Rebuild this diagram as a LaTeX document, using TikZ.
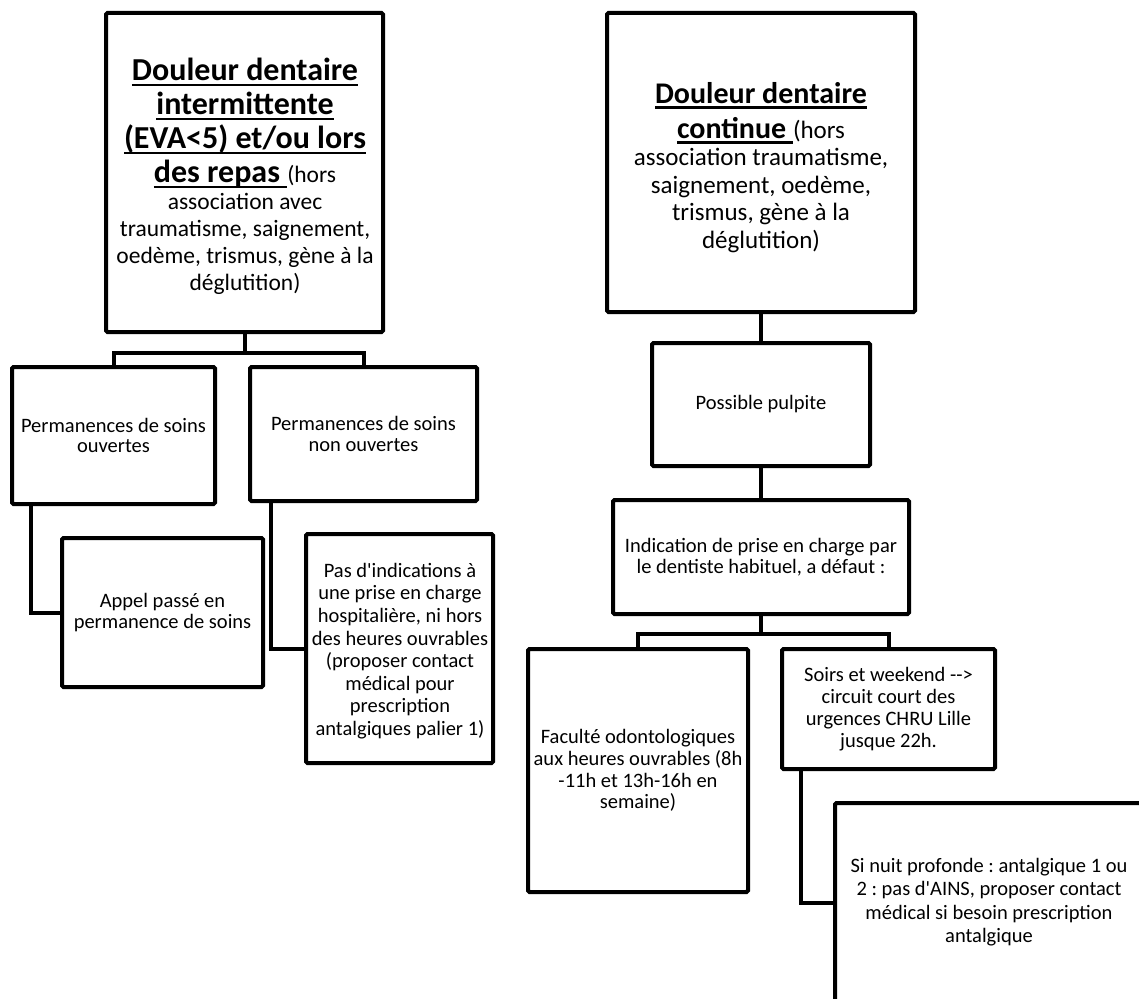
\documentclass[tikz,border=0pt]{standalone}
\usepackage{fontspec}
\setmainfont{Carlito}
\usetikzlibrary{calc}
\frenchspacing
\newsavebox{\ulbox}
\newcommand{\ulx}[1]{\leavevmode\sbox\ulbox{#1}\rlap{\rule[-5.2pt]{\wd\ulbox}{2.2pt}}\usebox\ulbox}
\newcommand{\hdA}{\fontsize{32}{34}\selectfont\bfseries}
\newcommand{\rgA}{\fontsize{23.5}{27}\selectfont\mdseries}
\newcommand{\hdB}{\fontsize{30}{35}\selectfont\bfseries}
\newcommand{\rgB}{\fontsize{25}{27.5}\selectfont\mdseries}
\newcommand{\q}{\textquotesingle}
\begin{document}
\begin{tikzpicture}[x=1pt,y=-1pt,
  box/.style={draw=black,line width=4pt,rounded corners=1.5pt,fill=white,inner sep=0pt,minimum width=#1},
  conn/.style={draw=black,line width=4pt},
  txt/.style={inner sep=0pt,text width=400pt,align=flush center,text=black},
  smtxt/.style={txt,font=\fontsize{20.5}{#1}\selectfont},
  smtxt/.default=21.5]
\useasboundingbox (0,0) rectangle (1139,998);
\clip (0,0) rectangle (1139,998);
% left column
\node[box=277pt,minimum height=319pt] (b1) at (244.5,172.5) {};
\node[txt] (t1) at (245,176.5) {\hdA\ulx{Douleur dentaire}\par\ulx{intermittente}\par\ulx{(EVA<5) et/ou lors}\par\ulx{des repas\ }{\rgA(hors}\par\rgA association avec\par traumatisme, saignement,\par oedème, trismus, gène à la\par déglutition)\par};
\node[box=203pt,minimum height=137pt] (p1) at (113.5,435.5) {};
\node[smtxt=20.5] (tp1) at (p1) {Permanences de soins\par ouvertes\par};
\node[box=227pt,minimum height=134pt] (p2) at (363.5,434) {};
\node[smtxt=20.5] (tp2) at (p2) {Permanences de soins\par non ouvertes\par};
\node[box=201pt,minimum height=149pt] (a1) at (162.5,612.5) {};
\node[smtxt=20.5] (ta1) at (a1) {Appel passé en\par permanence de soins\par};
\node[box=187pt,minimum height=229pt] (a2) at (399.5,648.5) {};
\node[smtxt=22.6] (ta2) at (400,651) {Pas d\q indications à\par une prise en charge\par hospitalière, ni hors\par des heures ouvrables\par (proposer contact\par médical pour\par prescription\par antalgiques palier 1)\par};
% right column
\node[box=308pt,minimum height=299pt] (b2) at (761,162.5) {};
\node[txt] (t2) at (761,167.5) {\hdB\ulx{Douleur dentaire}\par\ulx{continue\ }{\rgB(hors}\par\rgB association traumatisme,\par saignement, oedème,\par trismus, gène à la\par déglutition)\par};
\node[box=218pt,minimum height=123pt] (q1) at (761,404.5) {};
\node[smtxt] (tq1) at (q1) {Possible pulpite\par};
\node[box=296pt,minimum height=114pt] (q2) at (761,557) {};
\node[smtxt=20.5] (tq2) at (q2) {Indication de prise en charge par\par le dentiste habituel, a défaut :\par};
\node[box=220pt,minimum height=243pt] (f1) at (638,770.5) {};
\node[smtxt=21.7] (tf1) at (f1) {Faculté odontologiques\par aux heures ouvrables (8h\par -11h et 13h-16h en\par semaine)\par};
\node[box=213pt,minimum height=120pt] (f2) at (888.5,709) {};
\node[smtxt=22] (tf2) at (f2) {Soirs et weekend -{}->\par circuit court des\par urgences CHRU Lille\par jusque 22h.\par};
\node[box=308pt,minimum height=200pt] (s1) at (989,903) {};
\node[smtxt=23.3] (ts1) at (989,902) {Si nuit profonde : antalgique 1 ou\par 2 : pas d\q AINS, proposer contact\par médical si besoin prescription\par antalgique\par};
% connectors
\draw[conn] (b1.south) -- ++(0,19) coordinate (j1);
\draw[conn] (p1.north) |- (j1) -| (p2.north);
\draw[conn] ([xshift=21pt]p1.south west) |- (a1.west);
\draw[conn] ([xshift=23pt]p2.south west) |- (a2.west);
\draw[conn] (b2.south) -- (q1.north);
\draw[conn] (q1.south) -- (q2.north);
\draw[conn] (q2.south) -- ++(0,18) coordinate (j2);
\draw[conn] (f1.north) |- (j2) -| (f2.north);
\draw[conn] ([xshift=21pt]f2.south west) |- (s1.west);
\end{tikzpicture}
\end{document}
